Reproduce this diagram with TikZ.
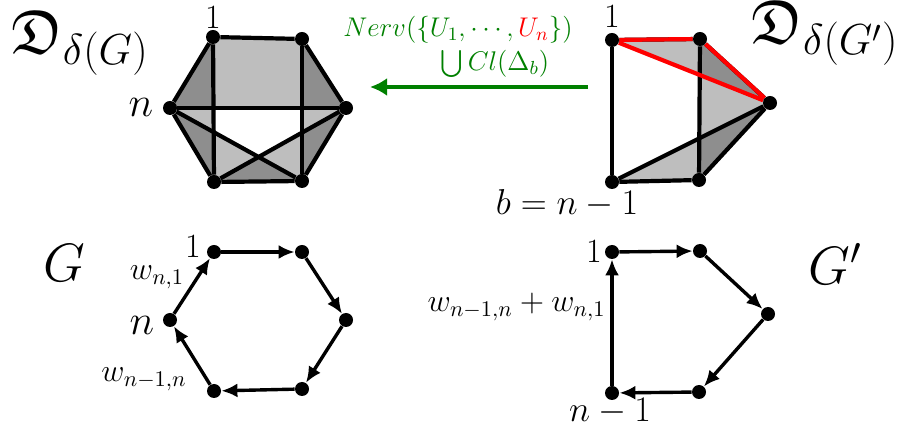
\RequirePackage{fix-cm}
\documentclass[tikz,border=0pt]{standalone}
\usepackage{amssymb}
\usetikzlibrary{arrows.meta}
\tikzset{
  vert/.style={circle,fill=black,minimum size=7pt,inner sep=0pt},
  simplex/.style={fill=black,fill opacity=0.255},
  cplx edge/.style={line width=2.1pt},
  hot edge/.style={red,line width=2.1pt},
  cyc edge/.style={-{Latex[length=8pt,width=7pt]},line width=1.7pt},
  nerve map/.style={green!50!black,line width=2pt,-{Latex[length=8.5pt,width=9pt]}},
  vlabel/.style={font=\fontsize{17}{20}\selectfont,inner sep=0pt},
  nlabel/.style={font=\fontsize{21}{25}\selectfont,inner sep=0pt},
  wlabel/.style={font=\fontsize{16}{19}\selectfont,inner sep=0pt},
  eqlabel/.style={font=\fontsize{18}{21}\selectfont,inner sep=0pt},
  gname/.style={font=\fontsize{27}{32}\selectfont,inner sep=0pt},
  dname/.style={font=\fontsize{31}{37}\selectfont,inner sep=0pt},
  nervlabel/.style={font=\fontsize{13.5}{16}\selectfont,text=green!50!black,inner sep=0pt},
}
\begin{document}
\begin{tikzpicture}[x=0.5pt,y=-0.5pt]
  \useasboundingbox (0,0) rectangle (904,437);
  % complex of G
  \begin{scope}
    \node[vert] (h1) at (213,37) {};
    \node[vert] (h2) at (302,39) {};
    \node[vert] (h3) at (346,108) {};
    \node[vert] (h4) at (302,181) {};
    \node[vert] (h5) at (214,182) {};
    \node[vert] (h6) at (170,108) {};
    \fill[simplex] (h6.center) -- (h1.center) -- (h2.center) -- (h3.center) -- cycle;
    \fill[simplex] (h1.center) -- (h6.center) -- (h5.center) -- cycle;
    \fill[simplex] (h2.center) -- (h3.center) -- (h4.center) -- cycle;
    \fill[simplex] (h6.center) -- (h4.center) -- (h5.center) -- cycle;
    \fill[simplex] (h3.center) -- (h4.center) -- (h5.center) -- cycle;
    \foreach \a/\b in {h1/h2,h2/h3,h3/h4,h4/h5,h5/h6,h6/h1,h1/h5,h2/h4,h6/h3,h6/h4,h3/h5}
      \draw[cplx edge] (\a) -- (\b);
    \node[vlabel] (h1lab) at (213,18) {$1$};
    \node[nlabel] (h6lab) at (141,107) {$n$};
    \node[dname] (dg) at (80,43) {$\mathfrak{D}_{\delta(G)}$};
  \end{scope}
  % complex of G'
  \begin{scope}
    \node[vert] (p1) at (612,40) {};
    \node[vert] (p2) at (700,39) {};
    \node[vert] (p3) at (770,103) {};
    \node[vert] (p4) at (699,180) {};
    \node[vert] (p5) at (612,182) {};
    \fill[simplex] (p1.center) -- (p2.center) -- (p3.center) -- cycle;
    \fill[simplex] (p2.center) -- (p3.center) -- (p4.center) -- cycle;
    \fill[simplex] (p3.center) -- (p4.center) -- (p5.center) -- cycle;
    \foreach \a/\b in {p1/p2,p2/p3,p3/p4,p4/p5,p5/p1,p2/p4,p5/p3}
      \draw[cplx edge] (\a) -- (\b);
    \draw[hot edge] (p1) -- (p2) -- (p3) -- (p1);
    \node[vlabel] (p1lab) at (612,17) {$1$};
    \node[eqlabel] (blab) at (567,204) {$b=n-1$};
    \node[dname] (dgp) at (825,33) {$\mathfrak{D}_{\delta(G')}$};
  \end{scope}
  % the map
  \coordinate (mapfrom) at (588,87);
  \coordinate (mapto) at (370,87);
  \draw[nerve map] (mapfrom) -- (mapto);
  \node[nervlabel] (nerv) at (458,30) {$Nerv(\{U_1,\cdots,\textcolor{red}{U_n}\})$};
  \node[nervlabel] (cl) at (495,64) {$\bigcup Cl(\Delta_b)$};
  % G
  \begin{scope}
    \node[vert] (g1) at (214,252) {};
    \node[vert] (g2) at (302,252) {};
    \node[vert] (g3) at (346,320) {};
    \node[vert] (g4) at (302,389) {};
    \node[vert] (g5) at (214,391) {};
    \node[vert] (g6) at (170,320) {};
    \foreach \a/\b in {g1/g2,g2/g3,g3/g4,g4/g5,g5/g6,g6/g1}
      \draw[cyc edge] (\a) -- (\b);
    \node[gname] (glab) at (64,263) {$G$};
    \node[vlabel] (g1lab) at (193,247) {$1$};
    \node[wlabel] (w61) at (157,277) {$w_{n,1}$};
    \node[nlabel] (g6lab) at (142,325) {$n$};
    \node[wlabel] (w56) at (144,379) {$w_{n-1,n}$};
  \end{scope}
  % G'
  \begin{scope}
    \node[vert] (q1) at (612,252) {};
    \node[vert] (q2) at (700,251) {};
    \node[vert] (q3) at (768,314) {};
    \node[vert] (q4) at (699,392) {};
    \node[vert] (q5) at (612,393) {};
    \foreach \a/\b in {q1/q2,q2/q3,q3/q4,q4/q5,q5/q1}
      \draw[cyc edge] (\a) -- (\b);
    \node[gname] (gplab) at (835,264) {$G'$};
    \node[vlabel] (q1lab) at (594,252) {$1$};
    \node[wlabel,anchor=east] (w51) at (606,307) {$w_{n-1,n}+w_{n,1}$};
    \node[eqlabel] (q5lab) at (610,411) {$n-1$};
  \end{scope}
\end{tikzpicture}
\end{document}
